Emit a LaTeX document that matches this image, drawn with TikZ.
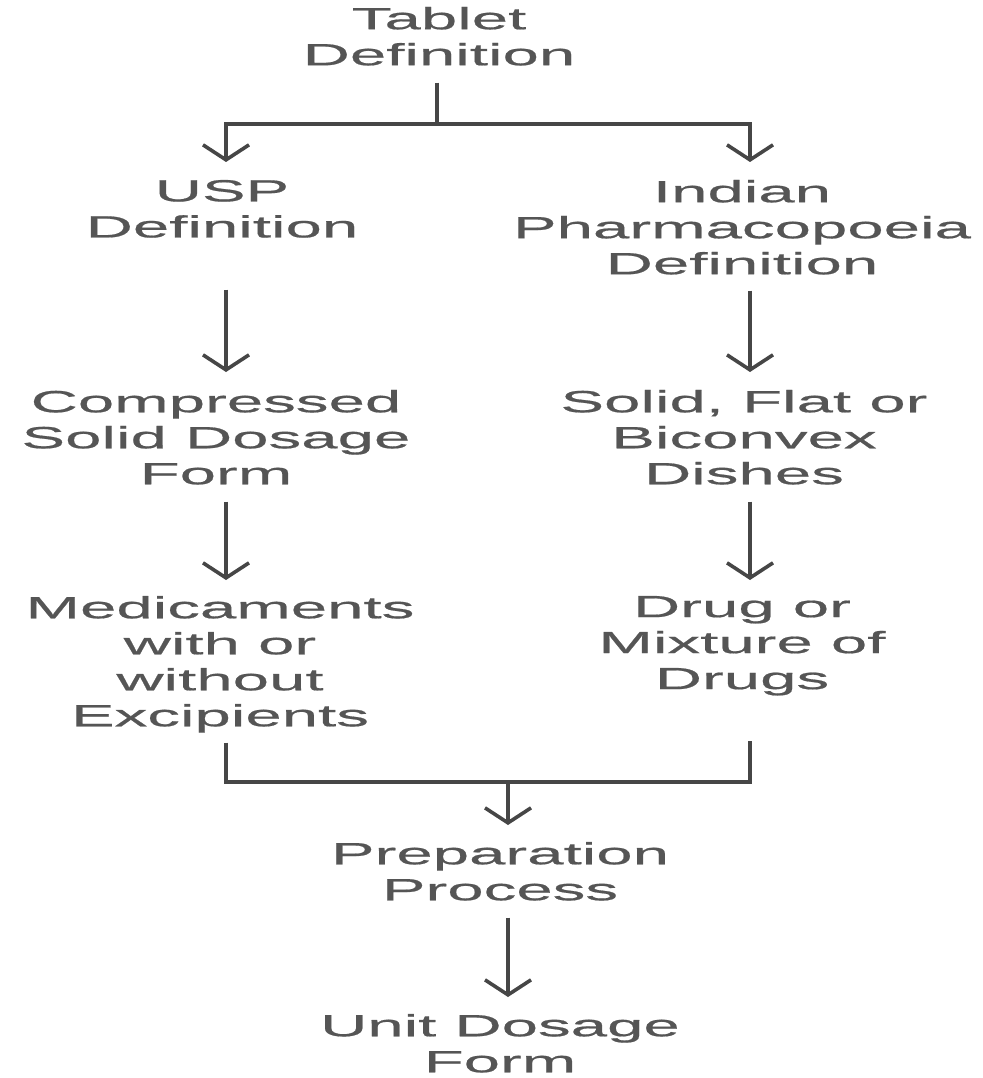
\documentclass[tikz,border=0pt]{standalone}
\usepackage{fontspec}
\usetikzlibrary{arrows.meta}
\newfontfamily\labfont[FakeStretch=2.13,FakeBold=0.6]{Liberation Sans}
\definecolor{txtgray}{HTML}{555555}
\definecolor{linegray}{HTML}{464646}
\begin{document}
\begin{tikzpicture}[x=1pt,y=-1pt,
  lab/.style={anchor=north, inner sep=0pt, outer sep=0pt, align=center,
    text=txtgray, font=\labfont\fontsize{30.7}{36}\selectfont},
  link/.style={draw=linegray, line width=3.6pt},
  flow/.style={link, -{Straight Barb[length=15pt, width=46pt, line width=3.6pt]}}]
\useasboundingbox (0,0) rectangle (982,1078);

% arrow columns and junction rows
\coordinate (colL) at (226,0);
\coordinate (colR) at (750,0);
\coordinate (colM) at (508,0);
\coordinate (split) at (437,124);
\coordinate (merge) at (508,782);

% labels
\node[lab] (tablet) at (439,7)   {Tablet\\Definition};
\node[lab] (usp)    at (222,180) {USP\\Definition};
\node[lab] (ind)    at (742,180) {Indian\\Pharmacopoeia\\Definition};
\node[lab] (comp)   at (216,390) {Compressed\\Solid Dosage\\Form};
\node[lab] (solid)  at (744,390) {Solid, Flat or\\Biconvex\\Dishes};
\node[lab] (med)    at (220,596) {Medicaments\\with or\\without\\Excipients};
\node[lab] (drug)   at (742,596) {Drug or\\Mixture of\\Drugs};
\node[lab] (prep)   at (500,842) {Preparation\\Process};
\node[lab] (unit)   at (500,1014) {Unit Dosage\\Form};

% split into the two definitions
\draw[link] ([yshift=-17pt]tablet.south -| split) -- (split);
\draw[flow] (split) -| ([yshift=18pt]usp.north -| colL);
\draw[flow] (split) -| ([yshift=18pt]ind.north -| colR);

% left branch
\draw[flow] ([yshift=-52pt]usp.south -| colL) -- ([yshift=18pt]comp.north -| colL);
\draw[flow] ([yshift=-17pt]comp.south -| colL) -- ([yshift=16pt]med.north -| colL);

% right branch
\draw[flow] ([yshift=-16pt]ind.south -| colR) -- ([yshift=18pt]solid.north -| colR);
\draw[flow] ([yshift=-17pt]solid.south -| colR) -- ([yshift=16pt]drug.north -| colR);

% join the branches
\draw[link] ([yshift=-10pt]med.south -| colL) |- (merge) -| ([yshift=-45pt]drug.south -| colR);
\draw[flow] (merge) -- ([yshift=17pt]prep.north -| colM);
\draw[flow] ([yshift=-17pt]prep.south -| colM) -- ([yshift=17pt]unit.north -| colM);
\end{tikzpicture}
\end{document}
